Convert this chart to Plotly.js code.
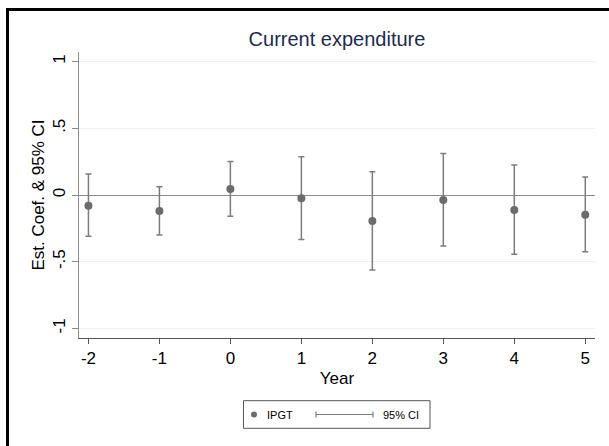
<!DOCTYPE html>
<html>
<head>
<meta charset="utf-8">
<script src="https://cdn.plot.ly/plotly-3.0.1.min.js"></script>
<style>
html,body{margin:0;padding:0;background:#fff;overflow:hidden;}
#wrap{position:relative;width:609px;height:446px;overflow:hidden;}
#chart{width:609px;height:446px;}
#frame{position:absolute;left:6px;top:8px;width:700px;height:600px;border-left:3px solid #000;border-top:3px solid #000;pointer-events:none;}
</style>
</head>
<body>
<div id="wrap">
<div id="chart"></div>
<div id="frame"></div>
</div>
<script>
var years = [-2, -1, 0, 1, 2, 3, 4, 5];
var estimates = [-0.080, -0.120, 0.045, -0.025, -0.195, -0.037, -0.112, -0.148];
var ciUpper = [0.157, 0.062, 0.252, 0.287, 0.175, 0.312, 0.225, 0.135];
var ciLower = [-0.310, -0.300, -0.160, -0.333, -0.562, -0.382, -0.445, -0.425];
var yTickVals = [-1, -0.5, 0, 0.5, 1];
var yTickText = ['-1', '-.5', '0', '.5', '1'];
var xTickVals = [-2, -1, 0, 1, 2, 3, 4, 5];
var xTickText = ['-2', '-1', '0', '1', '2', '3', '4', '5'];

var errPlus = estimates.map(function(v, i){ return ciUpper[i] - v; });
var errMinus = estimates.map(function(v, i){ return v - ciLower[i]; });

var FONT = 'Liberation Sans, Arial, sans-serif';

var trace = {
  x: years, y: estimates, type: 'scatter', mode: 'markers', name: 'IPGT',
  marker: {color: '#6b6b6b', size: 8},
  error_y: {type: 'data', symmetric: false, array: errPlus, arrayminus: errMinus,
            color: '#7c7c7c', thickness: 1.5, width: 3},
  showlegend: false, hoverinfo: 'x+y'
};

// plot area: left 79, right 595, top 52, bottom 338
var L = 79, R = 595, T = 52, B = 338, W = 609, H = 446;
function px(x){ return (x - L) / (R - L); }
function py(y){ return (B - y) / (B - T); }

var legY = 414.5;
var shapes = [
  // legend box
  {type: 'rect', xref: 'paper', yref: 'paper', x0: px(243.5), x1: px(430), y0: py(428.3), y1: py(400.7),
   line: {color: '#555', width: 1}, fillcolor: '#fff'},
  // legend marker
  {type: 'circle', xref: 'paper', yref: 'paper', x0: px(251), x1: px(257), y0: py(legY + 3), y1: py(legY - 3),
   line: {color: '#6b6b6b', width: 0}, fillcolor: '#6b6b6b'},
  // legend CI symbol
  {type: 'line', xref: 'paper', yref: 'paper', x0: px(316), x1: px(373), y0: py(legY), y1: py(legY),
   line: {color: '#7c7c7c', width: 1.2}},
  {type: 'line', xref: 'paper', yref: 'paper', x0: px(316), x1: px(316), y0: py(legY - 3), y1: py(legY + 3),
   line: {color: '#7c7c7c', width: 1.2}},
  {type: 'line', xref: 'paper', yref: 'paper', x0: px(373), x1: px(373), y0: py(legY - 3), y1: py(legY + 3),
   line: {color: '#7c7c7c', width: 1.2}}
];

var annotations = [
  {xref: 'paper', yref: 'paper', x: px(265), y: py(legY), xanchor: 'left', yanchor: 'middle',
   text: 'IPGT', showarrow: false, font: {family: FONT, size: 11, color: '#000'}},
  {xref: 'paper', yref: 'paper', x: px(381), y: py(legY), xanchor: 'left', yanchor: 'middle',
   text: '95% CI', showarrow: false, font: {family: FONT, size: 11, color: '#000'}}
];

var layout = {
  width: W, height: H,
  margin: {l: L, r: W - R, t: T, b: H - B, pad: 0},
  paper_bgcolor: '#fff', plot_bgcolor: '#fff',
  font: {family: FONT, color: '#000'},
  title: {text: 'Current expenditure', font: {family: FONT, size: 20, color: '#1c2b4f'},
          xref: 'paper', x: 0.5, xanchor: 'center', yref: 'container', y: 1 - 39/H, yanchor: 'middle'},
  xaxis: {range: [-2.133, 5.137], tickmode: 'array', tickvals: xTickVals, ticktext: xTickText,
          showgrid: false, zeroline: false, showline: true, linecolor: '#555', linewidth: 1,
          ticks: 'outside', ticklen: 5, tickcolor: '#555', tickwidth: 1,
          tickfont: {family: FONT, size: 17, color: '#000'},
          title: {text: 'Year', font: {family: FONT, size: 17, color: '#000'}, standoff: 4}},
  yaxis: {range: [-1.072, 1.072], tickmode: 'array', tickvals: yTickVals, ticktext: yTickText,
          tickangle: -90, showgrid: true, gridcolor: '#eaf2f2', gridwidth: 1,
          zeroline: true, zerolinecolor: '#8c8c8c', zerolinewidth: 1,
          showline: true, linecolor: '#8c8c8c', linewidth: 1.5,
          ticks: 'outside', ticklen: 6, tickcolor: '#8c8c8c', tickwidth: 1,
          tickfont: {family: FONT, size: 17, color: '#000'},
          title: {text: 'Est. Coef. & 95% CI', font: {family: FONT, size: 17, color: '#000'}, standoff: 1}},
  shapes: shapes,
  annotations: annotations,
  showlegend: false
};

Plotly.newPlot('chart', [trace], layout, {displayModeBar: false, staticPlot: true});
</script>
</body>
</html>
